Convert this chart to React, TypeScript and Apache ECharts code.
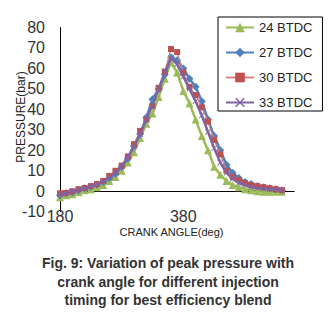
import React, { useEffect, useRef } from "react";
import * as echarts from "echarts";

const crankAngles = [180,190,200,210,220,230,240,250,260,270,280,290,300,310,320,330,340,350,360,370,380,390,400,410,420,430,440,450,460,470,480,490,500,510,520,530,540];
const btdc24 = [-3,-2,-1.5,-0.5,0.5,1,2,3,5,7,10,14,19,26,33,38,46,55,63,58,49,43,35,27,20,12,8,5,3,2,1,0.5,0,-0.2,-0.3,-0.3,-0.2];
const btdc27 = [-2,-1,-0.5,0.5,1.5,2.2,3.3,4.5,6.5,8.5,12,16,22,28,36,45,50,57,65.5,64,60,55,51,44,35,27,20,13,9,6.5,4.5,3.5,2.5,2,1.5,1,0.5];
const btdc30 = [-1,-0.8,0,1,1.6,2.5,3.5,5,7.5,10,12.5,17,23,29.5,35,41.5,50.5,58.5,69.5,68,58,51,47,41,34,25,18,10,7,5.5,4,3,2.5,2,1.5,1,0.5];
const btdc33 = [-1.5,-1,0,0.8,1.5,2.4,3.4,4.8,6.8,9,12.5,16.5,22,28,35,42,50,58,65,62,56,50,44,37,29,21,14,9,6,4,3,2,1.5,1.2,1,0.8,0.5];
const seriesNames = ["24 BTDC", "27 BTDC", "30 BTDC", "33 BTDC"];
const yTicks = { min: -10, max: 80, interval: 10 };
const xTicks = { min: 180, max: 560, interval: 200 };
const captionLines = [
  "Fig. 9: Variation of peak pressure with",
  "crank angle for different injection",
  "timing for best efficiency blend",
];

const FONT = "'Liberation Sans', Arial, Helvetica, sans-serif";
const xMark = "path://M0,1L1,0L5,4L9,0L10,1L6,5L10,9L9,10L5,6L1,10L0,9L4,5Z";

function pairs(vals: number[]) {
  return crankAngles.map((x, i) => [x, vals[i]]);
}

export default function App() {
  const ref = useRef<HTMLDivElement>(null);
  useEffect(() => {
    if (!ref.current) return;
    const chart = echarts.init(ref.current, null, { renderer: "svg" });
    const styles = [
      { color: "#9BBB59", line: "#9BBB59", width: 2.5, symbol: "triangle", size: 8 },
      { color: "#4F81BD", line: "#4F81BD", width: 2.5, symbol: "diamond", size: 8 },
      { color: "#C0504D", line: "#D9807D", width: 1.2, symbol: "rect", size: 6 },
      { color: "#8064A2", line: "#8064A2", width: 2.5, symbol: xMark, size: 6 },
    ];
    const data = [btdc24, btdc27, btdc30, btdc33];
    chart.setOption({
      animation: false,
      backgroundColor: "#ffffff",
      grid: { left: 60, right: 37.7, top: 27.5, bottom: 111.3 },
      legend: {
        orient: "vertical",
        left: 218,
        top: 17,
        padding: [4, 10, 2, 7],
        itemGap: 12,
        itemWidth: 28,
        itemHeight: 12,
        borderColor: "#000",
        borderWidth: 1,
        textStyle: { fontFamily: FONT, fontSize: 13, color: "#222" },
        data: seriesNames,
      },
      xAxis: [
        {
          type: "value",
          min: xTicks.min,
          max: xTicks.max,
          interval: xTicks.interval,
          axisLine: { show: false, onZero: false },
          axisTick: { show: false },
          splitLine: { show: false },
          axisLabel: {
            showMaxLabel: false,
            margin: -3,
            fontFamily: FONT,
            fontSize: 16,
            color: "#333",
          },
        },
        {
          type: "value",
          min: xTicks.min,
          max: xTicks.max,
          position: "bottom",
          axisLine: { show: true, onZero: true, lineStyle: { color: "#000", width: 1 } },
          axisTick: { show: false },
          splitLine: { show: false },
          axisLabel: { show: false },
        },
      ],
      yAxis: {
        type: "value",
        min: yTicks.min,
        max: yTicks.max,
        interval: yTicks.interval,
        axisLine: { show: true, lineStyle: { color: "#000", width: 1 } },
        axisTick: { show: false },
        splitLine: { show: false },
        axisLabel: { margin: 15, fontFamily: FONT, fontSize: 16, color: "#333" },
      },
      series: seriesNames.map((name, i) => ({
        name,
        type: "line",
        xAxisIndex: 0,
        data: pairs(data[i]),
        symbol: styles[i].symbol,
        symbolSize: styles[i].size,
        showAllSymbol: true,
        itemStyle: { color: styles[i].color },
        lineStyle: { color: styles[i].line, width: styles[i].width },
        z: 2 + i,
      })),
      graphic: [
        {
          type: "text",
          x: 21,
          y: 117,
          rotation: Math.PI / 2,
          style: {
            text: "PRESSURE(bar)",
            font: `12px ${FONT}`,
            fill: "#222",
            textAlign: "center",
            textVerticalAlign: "middle",
          },
        },
        {
          type: "text",
          x: 171.5,
          y: 232,
          style: {
            text: "CRANK ANGLE(deg)",
            font: `11px ${FONT}`,
            fill: "#222",
            textAlign: "center",
            textVerticalAlign: "middle",
          },
        },
        ...captionLines.map((t, i) => ({
          type: "text",
          x: 168,
          y: 263 + i * 18.5,
          style: {
            text: t,
            font: `bold 14px ${FONT}`,
            fill: "#333",
            textAlign: "center",
            textVerticalAlign: "middle",
          },
        })),
      ],
    });
    return () => chart.dispose();
  }, []);
  return (
    <div
      ref={ref}
      style={{ position: "absolute", left: 0, top: 0, width: 332, height: 323, background: "#fff" }}
    />
  );
}
